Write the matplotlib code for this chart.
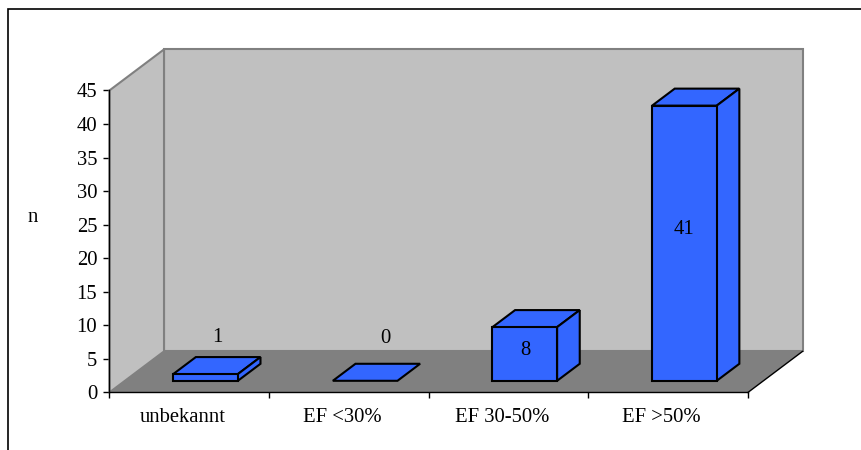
import matplotlib
matplotlib.use('Agg')
import matplotlib.pyplot as plt
from matplotlib.patches import Polygon, Rectangle

categories = ['unbekannt', 'EF <30%', 'EF 30-50%', 'EF >50%']
values = [1, 0, 8, 41]
y_ticks = [0, 5, 10, 15, 20, 25, 30, 35, 40, 45]

WALL = '#C0C0C0'
FLOOR = '#808080'
BAR = '#3366FF'

# oblique offset of the back wall, in data units
DEPTH_X = 0.3415
DEPTH_Y = 6.11


def project(x, y, z=0.0):
    return (x + z * DEPTH_X, y + z * DEPTH_Y)


def face(ax, corners, color, edge='none', lw=1.5, zorder=2):
    pts = [project(*c) for c in corners]
    ax.add_patch(Polygon(pts, closed=True, facecolor=color, edgecolor=edge,
                         linewidth=lw, joinstyle='miter', clip_on=False, zorder=zorder))


def draw_box(ax, center, value, width=0.405, z0=0.283, z1=0.698):
    x0 = center - width / 2
    x1 = center + width / 2
    face(ax, [(x0, value, z0), (x1, value, z0), (x1, value, z1), (x0, value, z1)], BAR, 'black', 1.5, 5)
    if value > 0:
        face(ax, [(x1, 0, z0), (x1, 0, z1), (x1, value, z1), (x1, value, z0)], BAR, 'black', 1.5, 5)
        face(ax, [(x0, 0, z0), (x1, 0, z0), (x1, value, z0), (x0, value, z0)], BAR, 'black', 1.5, 5)


def main():
    plt.rcParams['font.family'] = ['Liberation Serif', 'DejaVu Serif']
    fig = plt.figure(figsize=(8.62, 4.5), dpi=100)
    fig.patch.set_facecolor('white')
    fig.add_artist(Rectangle((8.5 / 862, -0.1), 2, 1.08, transform=fig.transFigure,
                             facecolor='none', edgecolor='black', linewidth=1.2))

    ax = fig.add_axes([109.5 / 862, 57.6 / 450, 638.5 / 862, 302 / 450])
    ax.set_xlim(0, 4)
    ax.set_ylim(0, 45)
    ax.patch.set_alpha(0)

    # back wall, side wall and floor
    face(ax, [(0, 0, 1), (4, 0, 1), (4, 45, 1), (0, 45, 1)], WALL, FLOOR)
    face(ax, [(0, 0, 0), (0, 0, 1), (0, 45, 1), (0, 45, 0)], WALL, FLOOR)
    face(ax, [(0, 0, 0), (4, 0, 0), (4, 0, 1), (0, 0, 1)], FLOOR, 'none', zorder=3)
    ax.plot(*zip(project(4, 0, 0), project(4, 0, 1)), color='black', lw=1.0, clip_on=False, zorder=4)

    for i, v in enumerate(values):
        draw_box(ax, i + 0.505, v)

    # value labels sit on the bars or just above the small ones
    fs = 14.9
    label_pos = [(0.673, 8.2), (1.726, 8.0), (2.603, 6.2), (3.6, 24.3)]
    for (lx, ly), v in zip(label_pos, values):
        ax.text(lx, ly, str(v), ha='center', va='center', fontsize=fs, color='black', zorder=6)

    for side in ['top', 'right']:
        ax.spines[side].set_visible(False)
    for side in ['left', 'bottom']:
        ax.spines[side].set_linewidth(1.0)
        ax.spines[side].set_zorder(7)

    ax.set_yticks(y_ticks)
    ax.set_xticks(range(5))
    ax.set_xticklabels([])
    ax.tick_params(axis='both', length=4, width=1.0, labelsize=fs)
    ax.tick_params(axis='y', pad=4.9)

    for i, name in enumerate(categories):
        ax.annotate(name, (i + 0.46, 0), xycoords='data', xytext=(0, -18),
                    textcoords='offset points', ha='center', va='center', fontsize=fs)

    fig.text(33 / 862, 1 - 218 / 450, 'n', ha='center', va='center', fontsize=fs)

    fig.savefig('out.png', dpi=100)


if __name__ == "__main__":
    main()
